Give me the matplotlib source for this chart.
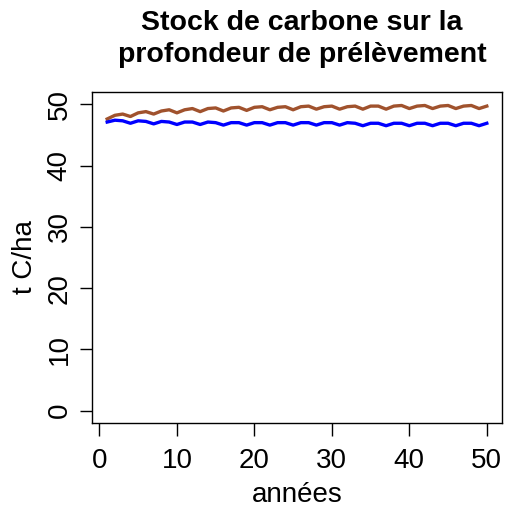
import matplotlib
matplotlib.use("Agg")
import matplotlib.pyplot as plt
import numpy as np

plt.rcParams['font.family'] = ['Liberation Sans', 'DejaVu Sans']

years = list(range(1, 51))
stock_brown = [47.6, 48.2, 48.4, 48.0, 48.6, 48.8, 48.4, 48.9, 49.1, 48.6,
               49.1, 49.3, 48.8, 49.3, 49.4, 48.9, 49.4, 49.5, 49.0, 49.5,
               49.6, 49.1, 49.5, 49.6, 49.1, 49.6, 49.7, 49.2, 49.6, 49.7,
               49.2, 49.6, 49.7, 49.2, 49.7, 49.7, 49.2, 49.7, 49.8, 49.3,
               49.7, 49.8, 49.3, 49.7, 49.8, 49.3, 49.7, 49.8, 49.3, 49.7]
stock_blue = [47.1, 47.4, 47.3, 46.9, 47.3, 47.2, 46.8, 47.2, 47.1, 46.7,
              47.1, 47.1, 46.7, 47.1, 47.0, 46.6, 47.0, 47.0, 46.6, 47.0,
              47.0, 46.6, 47.0, 47.0, 46.6, 47.0, 47.0, 46.6, 47.0, 47.0,
              46.6, 47.0, 46.9, 46.5, 46.9, 46.9, 46.5, 46.9, 46.9, 46.5,
              46.9, 46.9, 46.5, 46.9, 46.9, 46.5, 46.9, 46.9, 46.5, 46.9]
xticks = [0, 10, 20, 30, 40, 50]
yticks = [0, 10, 20, 30, 40, 50]

fig = plt.figure(figsize=(5.08, 5.07), dpi=100)
ax = fig.add_axes([92/508, 1-423/507, (502-92)/508, (423-92)/507])
ax.plot(years, stock_brown, color='#A0522D', lw=2.4)
ax.plot(years, stock_blue, color='#0000FF', lw=2.4)
ax.set_xlim(1-0.04*49, 50+0.04*49)
ax.set_ylim(-2, 52)
ax.set_xticks(xticks)
ax.set_yticks(yticks)
ax.tick_params(direction='out', length=9, width=1, labelsize=20, pad=5)
ax.tick_params(axis='x', pad=9)
for lab in ax.get_yticklabels():
    lab.set_rotation(90)
    lab.set_va('center')
for s in ax.spines.values():
    s.set_linewidth(1)
ax.set_xlabel('années', fontsize=20, labelpad=6)
ax.set_ylabel('t C/ha', fontsize=20, labelpad=6)
fig.text(302/508, 1-39/507, 'Stock de carbone sur la\nprofondeur de prélèvement',
         ha='center', va='center', fontsize=20.5, fontweight='bold', linespacing=1.3)
fig.savefig('out.png', dpi=100)
